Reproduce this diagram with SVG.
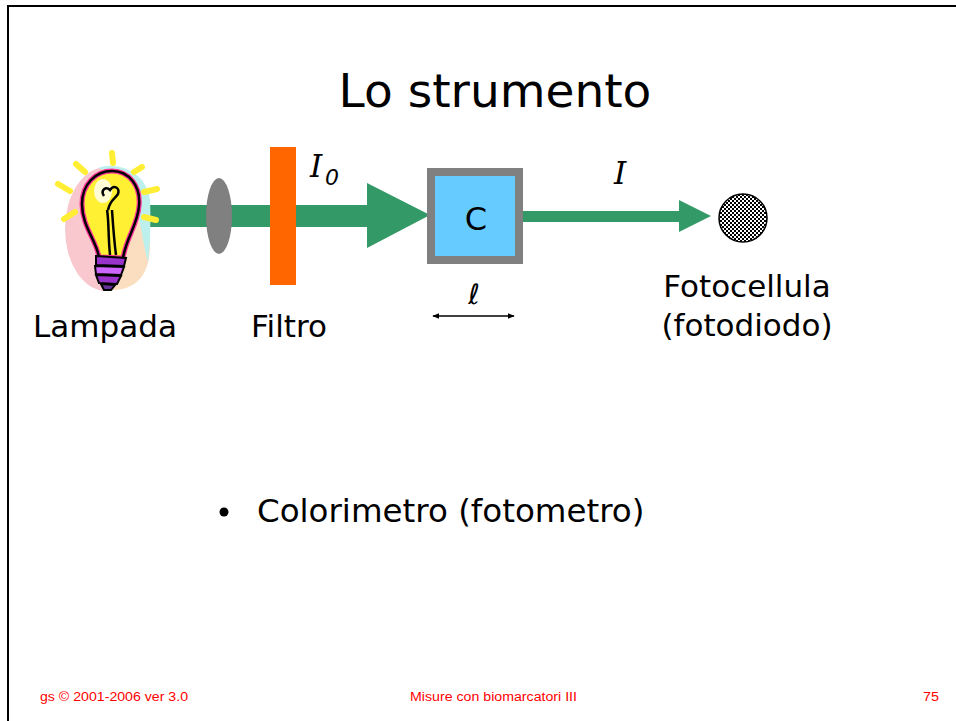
<svg xmlns="http://www.w3.org/2000/svg" width="956" height="721" viewBox="0 0 956 721">
  <style>
    .txt { font-family: "DejaVu Sans", Verdana, sans-serif; fill: #000; }
    .lbl { font-size: 31px; }
    .sym { font-family: "DejaVu Sans", Verdana, sans-serif; font-style: italic; fill: #000; }
    .serif { font-family: "DejaVu Serif", "Liberation Serif", serif; }
    .foot { font-family: "Liberation Sans", Tahoma, sans-serif; font-size: 12px; fill: #FF0000; }
    .beam { fill: #339966; }
    .ray { stroke: #FFEE33; stroke-width: 6; stroke-linecap: round; fill: none; }
  </style>
  <defs>
    <pattern id="checker" width="4" height="4" patternUnits="userSpaceOnUse">
      <rect width="4" height="4" fill="#ffffff"/>
      <rect width="2" height="2" fill="#000000"/>
      <rect x="2" y="2" width="2" height="2" fill="#000000"/>
    </pattern>
    <marker id="tip" viewBox="0 0 10 10" refX="9" refY="5" markerWidth="7" markerHeight="7" orient="auto-start-reverse" markerUnits="userSpaceOnUse">
      <path d="M0,1 L10,5 L0,9 Z" fill="#000"/>
    </marker>
  </defs>

  <rect width="956" height="721" fill="#ffffff"/>
  <!-- slide frame -->
  <line x1="8" y1="6" x2="956" y2="6" stroke="#000" stroke-width="2"/>
  <line x1="8" y1="5" x2="8" y2="721" stroke="#000" stroke-width="2"/>

  <text class="txt" x="495" y="107" font-size="47" text-anchor="middle">Lo strumento</text>

  <!-- light beams -->
  <g id="connectors">
    <path class="beam" d="M148,205 H367 V183 L430,215 L367,248 V227 H148 Z"/>
    <path class="beam" d="M523,211 H679 V200 L711,216 L679,232 V222 H523 Z"/>
    <line x1="433" y1="316" x2="514" y2="316" stroke="#000" stroke-width="1.5" marker-start="url(#tip)" marker-end="url(#tip)"/>
  </g>

  <!-- lamp -->
  <g id="lampada">
    <ellipse cx="106" cy="229" rx="41" ry="62" fill="#F8C8CE"/>
    <path d="M112,290 C140,290 150,270 150,245 C150,225 140,215 130,212 C118,230 112,260 112,290 Z" fill="#FBDDC0"/>
    <path d="M98,168 C120,160 148,175 150,200 C151,220 150,250 148,262 C142,240 140,215 132,195 C125,180 112,172 98,168 Z" fill="#BDF0EC"/>
    <line class="ray" x1="112" y1="153" x2="113" y2="163"/>
    <line class="ray" x1="76" y1="164" x2="85" y2="172"/>
    <line class="ray" x1="58" y1="184" x2="70" y2="191"/>
    <line class="ray" x1="64" y1="219" x2="75" y2="212"/>
    <line class="ray" x1="134" y1="172" x2="142" y2="167"/>
    <line class="ray" x1="144" y1="192" x2="157" y2="189"/>
    <line class="ray" x1="144" y1="217" x2="156" y2="220"/>
    <path d="M99,257 C96,240 82,226 82,204 C82,184 96,171 112,171 C129,171 141,186 139,206 C138,224 126,238 123,258 Z" fill="#FFF033" stroke="#FF3399" stroke-width="5"/>
    <path d="M99,257 C96,240 82,226 82,204 C82,184 96,171 112,171 C129,171 141,186 139,206 C138,224 126,238 123,258" fill="none" stroke="#000" stroke-width="2.5"/>
    <ellipse cx="103" cy="191" rx="9" ry="12" fill="#ffffff" opacity="0.8"/>
    <path d="M110,255 C108,235 109,220 107,210 M104,196 C100,190 106,186 110,190 C114,184 120,188 118,194 C114,200 110,200 108,210 M112,210 C113,225 114,240 116,255" fill="none" stroke="#000" stroke-width="2.5"/>
    <path d="M96,256 L126,258 L124,266 L96,265 Z" fill="#9933CC" stroke="#000" stroke-width="2"/>
    <path d="M95,266 L124,267 L121,275 L96,274 Z" fill="#CC66FF" stroke="#000" stroke-width="2"/>
    <path d="M96,275 L121,276 L117,284 L99,283 Z" fill="#9933CC" stroke="#000" stroke-width="2"/>
    <path d="M101,284 L115,285 L111,290 L104,290 Z" fill="#663399" stroke="#000" stroke-width="2"/>
    <text class="txt lbl" x="105" y="337" text-anchor="middle">Lampada</text>
  </g>

  <!-- lens -->
  <g id="lente">
    <ellipse cx="219" cy="216" rx="13" ry="38" fill="#808080"/>
  </g>

  <!-- filter -->
  <g id="filtro">
    <rect x="270" y="147" width="26" height="138" fill="#FF6600"/>
    <text class="txt lbl" x="289" y="337" text-anchor="middle">Filtro</text>
  </g>

  <g id="i0">
    <text class="sym serif" x="310" y="177" font-size="31">I</text>
    <text class="sym" x="325" y="185" font-size="22">0</text>
  </g>

  <!-- cuvette -->
  <g id="cuvetta">
    <rect x="431" y="172" width="88" height="88" fill="#66CCFF" stroke="#808080" stroke-width="8"/>
    <text class="txt" x="476" y="230" font-size="32" text-anchor="middle">C</text>
    <text class="txt" x="474" y="304" font-size="28" text-anchor="middle">ℓ</text>
  </g>

  <g id="i">
    <text class="sym serif" x="614" y="184" font-size="31">I</text>
  </g>

  <!-- photocell -->
  <g id="fotocellula">
    <circle cx="743" cy="218" r="24" fill="url(#checker)" stroke="#000" stroke-width="1.5"/>
    <text class="txt lbl" x="747" y="297" text-anchor="middle">Fotocellula</text>
    <text class="txt lbl" x="747" y="336" text-anchor="middle">(fotodiodo)</text>
  </g>

  <g id="elenco">
    <circle cx="224" cy="512" r="4.5" fill="#000"/>
    <text class="txt" x="257" y="522" font-size="32.5">Colorimetro (fotometro)</text>
  </g>

  <g id="piede">
    <text class="foot" x="40" y="701" textLength="148" lengthAdjust="spacingAndGlyphs">gs © 2001-2006 ver 3.0</text>
    <text class="foot" x="410" y="701" textLength="167" lengthAdjust="spacingAndGlyphs">Misure con biomarcatori III</text>
    <text class="foot" x="923" y="701" textLength="16" lengthAdjust="spacingAndGlyphs">75</text>
  </g>
</svg>
